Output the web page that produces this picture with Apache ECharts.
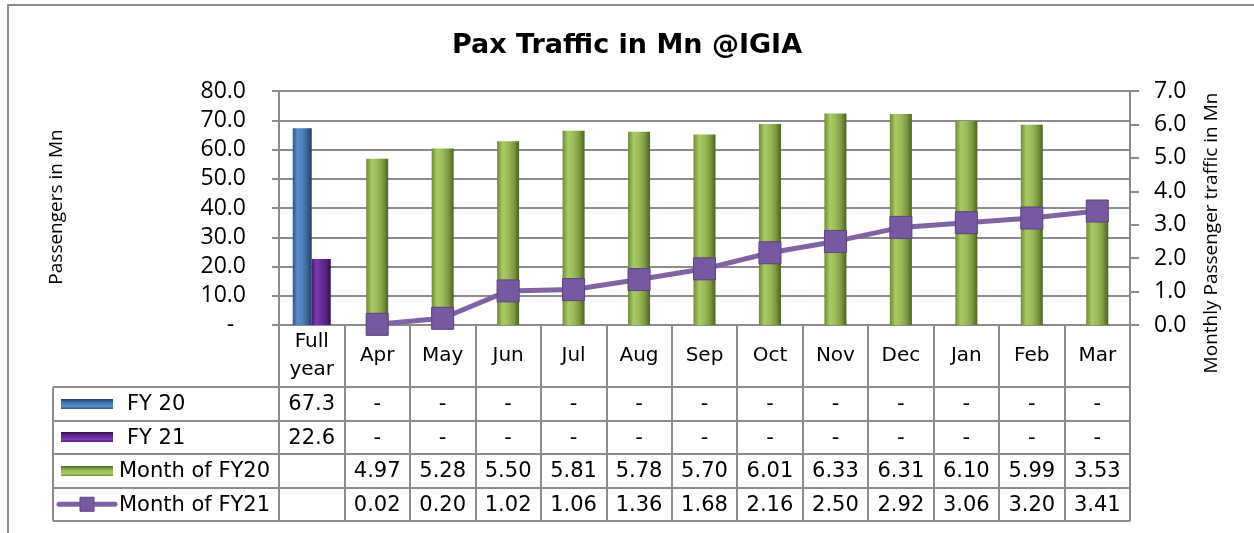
<!DOCTYPE html>
<html>
<head>
<meta charset="utf-8">
<script src="https://cdn.jsdelivr.net/npm/echarts@6/dist/echarts.min.js"></script>
<style>
html,body{margin:0;padding:0;background:#fff;}
#chart{width:1254px;height:533px;}
</style>
</head>
<body>
<div id="chart"></div>
<script>
// ---- data ----
const categories = ['Full\nyear','Apr','May','Jun','Jul','Aug','Sep','Oct','Nov','Dec','Jan','Feb','Mar'];
const fy20 = [67.3, null, null, null, null, null, null, null, null, null, null, null, null];
const fy21 = [22.6, null, null, null, null, null, null, null, null, null, null, null, null];
const monthFY20 = [null, 4.97, 5.28, 5.50, 5.81, 5.78, 5.70, 6.01, 6.33, 6.31, 6.10, 5.99, 3.53];
const monthFY21 = [null, 0.02, 0.20, 1.02, 1.06, 1.36, 1.68, 2.16, 2.50, 2.92, 3.06, 3.20, 3.41];
const leftAxis = {min: 0, max: 80, interval: 10};
const rightAxis = {min: 0, max: 7, interval: 1};
const seriesNames = ['FY 20', 'FY 21', 'Month of FY20', 'Month of FY21'];

// ---- styles ----
const GRAY = '#8c8c8c';
const TABLE_FONT = 'DejaVu Sans';
const AXIS_FONT = 'Open Sans';
function hGrad(stops){ return {type:'linear',x:0,y:0,x2:1,y2:0,colorStops:stops.map((c,i)=>({offset:i/(stops.length-1),color:c}))}; }
function vGrad(stops){ return {type:'linear',x:0,y:0,x2:0,y2:1,colorStops:stops.map((c,i)=>({offset:i/(stops.length-1),color:c}))}; }
const blueStops = ['#2f5586','#5a8ccb','#4f81bd','#3a6596','#233f62'];
const purpleStops = ['#4a1b70','#7c3bb0','#6b2d9c','#55217e','#2f0f48'];
const greenStops = ['#6e8b34','#a9cb64','#9bbb59','#7f9c42','#4c6322'];
const LINE_COLOR = '#8064a2';
const MARKER_COLOR = '#7659a0';

const chart = echarts.init(document.getElementById('chart'), null, {renderer:'canvas'});

const grid = {left: 279, right: 124, top: 91, bottom: 208};

chart.setOption({
  animation: false,
  title: {
    text: 'Pax Traffic in Mn @IGIA',
    left: 'center', top: 27,
    textStyle: {fontFamily: TABLE_FONT, fontWeight: 'bold', fontSize: 27, color: '#000'}
  },
  grid: grid,
  xAxis: [{
    type: 'category', data: categories, position: 'bottom',
    axisLine: {show: true, lineStyle: {color: GRAY, width: 2}},
    axisTick: {show: true, interval: 0, length: 196, lineStyle: {color: GRAY, width: 2}},
    axisLabel: {interval: 0, fontFamily: TABLE_FONT, fontSize: 20, color: '#000', verticalAlign: 'middle', margin: 31, lineHeight: 28},
    splitLine: {show: false}
  }, {
    type: 'category', data: categories, position: 'bottom', show: false
  }],
  yAxis: [{
    type: 'value', min: leftAxis.min, max: leftAxis.max, interval: leftAxis.interval, position: 'left',
    axisLine: {show: true, lineStyle: {color: GRAY, width: 2}},
    axisTick: {show: true, length: 7, lineStyle: {color: GRAY, width: 2}},
    axisLabel: {fontFamily: AXIS_FONT, fontSize: 23, color: '#000', margin: 33,
      formatter: v => v === 0 ? '-  ' : v.toFixed(1)},
    splitLine: {show: true, lineStyle: {color: GRAY, width: 2}}
  }, {
    type: 'value', min: rightAxis.min, max: rightAxis.max, interval: rightAxis.interval, position: 'right',
    axisLine: {show: true, lineStyle: {color: GRAY, width: 2}},
    axisTick: {show: true, length: 9, lineStyle: {color: GRAY, width: 2}},
    axisLabel: {fontFamily: AXIS_FONT, fontSize: 23, color: '#000', margin: 24,
      formatter: v => v.toFixed(1)},
    splitLine: {show: false}
  }],
  series: [{
    name: seriesNames[0], type: 'bar', xAxisIndex: 0, yAxisIndex: 0, data: fy20,
    barWidth: 19, barGap: '0%', itemStyle: {color: hGrad(blueStops)}
  }, {
    name: seriesNames[1], type: 'bar', xAxisIndex: 0, yAxisIndex: 0, data: fy21,
    barWidth: 19, barGap: '0%', itemStyle: {color: hGrad(purpleStops)}
  }, {
    name: seriesNames[2], type: 'bar', xAxisIndex: 1, yAxisIndex: 1, data: monthFY20,
    barWidth: 22, itemStyle: {color: hGrad(greenStops)}
  }, {
    name: seriesNames[3], type: 'line', xAxisIndex: 1, yAxisIndex: 1, data: monthFY21,
    symbol: 'rect', symbolSize: 22, showAllSymbol: true,
    lineStyle: {color: LINE_COLOR, width: 5},
    itemStyle: {color: MARKER_COLOR, borderColor: '#5a4280', borderWidth: 1},
    z: 5
  }]
});

// ---- data table below the axis (positions from the axis scale) ----
function buildTable(){
  const gx = grid.left;
  const gw = 1254 - grid.left - grid.right;
  const axisY = 533 - grid.bottom;
  const headerH = 62;
  const rowH = 33.5;
  const tableLeft = 53;
  const tableRight = gx + gw;
  const rowsTop = axisY + headerH;
  const els = [];
  const line = (x1,y1,x2,y2) => ({type:'line', shape:{x1,y1,x2,y2}, style:{stroke:GRAY, lineWidth:2}, silent:true, z:10});
  for (let r = 0; r <= 4; r++) {
    const y = Math.round(rowsTop + r*rowH);
    els.push(line(tableLeft, y, tableRight, y));
  }
  els.push(line(tableLeft, rowsTop, tableLeft, Math.round(rowsTop + 4*rowH)));
  const rows = [
    categories.map((c,i)=> fy20[i] != null ? fy20[i].toFixed(1) : '-'),
    categories.map((c,i)=> fy21[i] != null ? fy21[i].toFixed(1) : '-'),
    categories.map((c,i)=> monthFY20[i] != null ? monthFY20[i].toFixed(2) : ''),
    categories.map((c,i)=> monthFY21[i] != null ? monthFY21[i].toFixed(2) : '')
  ];
  rows.forEach((row, r) => {
    const cy = rowsTop + r*rowH + rowH/2 + 1;
    row.forEach((txt, i) => {
      const cx = chart.convertToPixel({xAxisIndex: 0}, categories[i]);
      els.push({type:'text', x: cx, y: cy, silent:true, z:10,
        style:{text: txt, fontFamily: TABLE_FONT, fontSize: 21, fill:'#000', align:'center', verticalAlign:'middle'}});
    });
  });
  const keyX = 61, keyW = 52, keyH = 10;
  const barKeys = [blueStops, purpleStops, greenStops];
  barKeys.forEach((st, r) => {
    const cy = rowsTop + r*rowH + rowH/2;
    els.push({type:'rect', shape:{x:keyX, y:Math.round(cy - keyH/2), width:keyW, height:keyH}, silent:true, z:10,
      style:{fill: vGrad(st.slice().reverse())}});
  });
  {
    const cy = rowsTop + 3*rowH + rowH/2;
    els.push({type:'line', shape:{x1:59, y1:cy, x2:115, y2:cy}, silent:true, z:10,
      style:{stroke: LINE_COLOR, lineWidth:5, lineCap:'round'}});
    els.push({type:'rect', shape:{x:80, y:cy-7, width:14, height:14}, silent:true, z:11,
      style:{fill: MARKER_COLOR, stroke:'#5a4280', lineWidth:1}});
  }
  const labelX = [127, 127, 119, 119];
  seriesNames.forEach((n, r) => {
    const cy = rowsTop + r*rowH + rowH/2 + 1;
    els.push({type:'text', x: labelX[r], y: cy, silent:true, z:10,
      style:{text: n, fontFamily: TABLE_FONT, fontSize: 21, fill:'#000', align:'left', verticalAlign:'middle'}});
  });
  els.push({type:'text', x: 57, y: 207, rotation: Math.PI/2, silent:true,
    style:{text:'Passengers in Mn', fontFamily: AXIS_FONT, fontSize: 19, fill:'#000', align:'center', verticalAlign:'middle'}});
  els.push({type:'text', x: 1212, y: 233, rotation: Math.PI/2, silent:true,
    style:{text:'Monthly Passenger traffic in Mn', fontFamily: AXIS_FONT, fontSize: 19, fill:'#000', align:'center', verticalAlign:'middle'}});
  els.push({type:'rect', shape:{x:8, y:5, width:1400, height:700}, silent:true, z:0,
    style:{fill:'none', stroke:GRAY, lineWidth:2}});
  chart.setOption({graphic: els});
}
buildTable();
</script>
</body>
</html>
